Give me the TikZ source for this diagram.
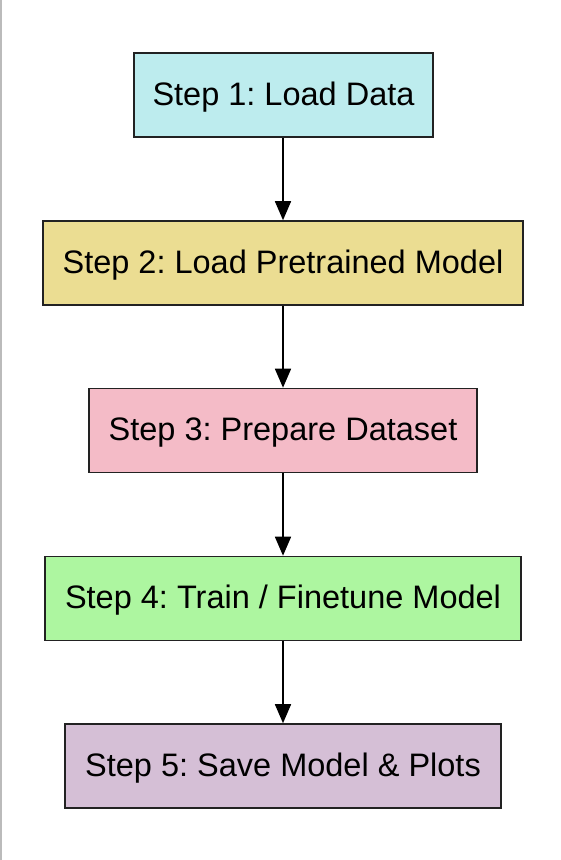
\documentclass[tikz,border=0pt]{standalone}
\usepackage{fontspec}
\setmainfont{Liberation Sans}
\frenchspacing
\usetikzlibrary{arrows.meta}
\definecolor{c1}{HTML}{BDECEE}
\definecolor{c2}{HTML}{EBDD92}
\definecolor{c3}{HTML}{F4BBC7}
\definecolor{c4}{HTML}{ADF6A0}
\definecolor{c5}{HTML}{D5BFD6}
\definecolor{bord}{HTML}{222222}
\definecolor{lgray}{HTML}{BBBBBB}
\begin{document}
\begin{tikzpicture}[x=1pt,y=-1pt,
  stepbox/.style={draw=bord,line width=1.6pt,minimum height=84pt,inner sep=0pt,
    text height=24pt,text depth=4pt,
    font=\fontsize{32.5}{38}\selectfont},
  conn/.style={line width=1.6pt,-{Triangle[length=19pt,width=16pt]}}]
\useasboundingbox (0,0) rectangle (560,860);
\draw[lgray,line width=1.5pt] (1,0) -- (1,860);
\node[stepbox,fill=c1,minimum width=299pt] (s1) at (283.5,95) {Step 1: Load Data};
\node[stepbox,fill=c2,minimum width=480pt] (s2) at (283,263) {Step 2: Load Pretrained Model};
\node[stepbox,fill=c3,minimum width=388pt] (s3) at (283,430.5) {Step 3: Prepare Dataset};
\node[stepbox,fill=c4,minimum width=476pt] (s4) at (283,598.5) {Step 4: Train / Finetune Model};
\node[stepbox,fill=c5,minimum width=436pt] (s5) at (283,766) {Step 5: Save Model \& Plots};
\draw[conn] (s1.south -| 283,0) -- (s2.north -| 283,0);
\draw[conn] (s2) -- (s3);
\draw[conn] (s3) -- (s4);
\draw[conn] (s4) -- (s5);
\end{tikzpicture}
\end{document}
